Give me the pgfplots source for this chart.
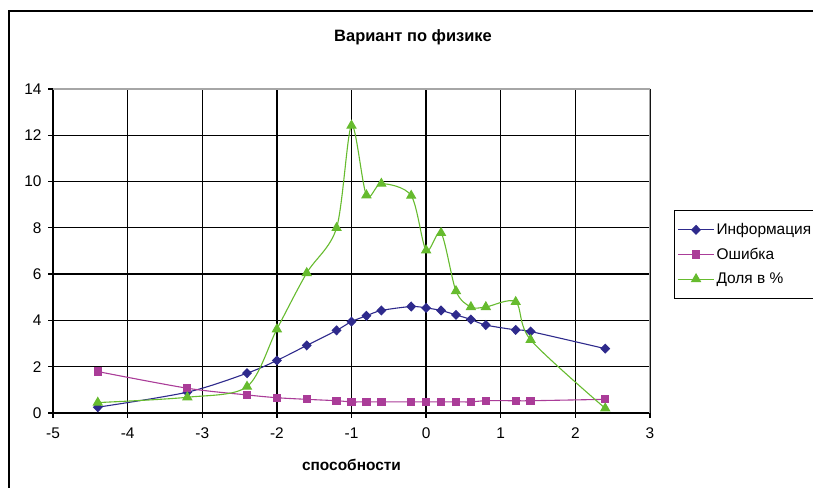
\documentclass[border=0pt]{standalone}
\usepackage{fontspec}
\setmainfont{Liberation Sans}
\usepackage{pgfplots}
\pgfplotsset{compat=1.18}
\definecolor{cInfo}{HTML}{2E2A8C}
\definecolor{cErr}{HTML}{AA3C98}
\definecolor{cDol}{HTML}{66BB2E}
\begin{document}
\begin{tikzpicture}[x=1bp,y=1bp]
\path[use as bounding box] (0,0) rectangle (813,488);
\draw[line width=1.2bp] (9,-2) -- (9,477) -- (815,477);
\node[font=\bfseries\fontsize{16.5}{19}\selectfont] at (413,451) {Вариант по физике};
\begin{axis}[
  at={(53bp,75bp)}, anchor=south west,
  scale only axis, width=597bp, height=324bp,
  xmin=-5, xmax=3, ymin=0, ymax=14,
  xtick={-5,-4,...,3}, ytick={0,2,...,14},
  grid=major, grid style={black, line width=1.3bp},
  axis line style={draw=none},
  tick align=outside, tick pos=left, major tick length=5bp,
  tick style={black, line width=1.3bp},
  ticklabel style={font=\fontsize{15.5}{18}\selectfont},
  xticklabel style={yshift=-6bp},
  yticklabel style={xshift=-3bp},
  /pgf/number format/assume math mode=true,
  xlabel={способности},
  xlabel style={font=\bfseries\fontsize{15.5}{18}\selectfont, at={(axis description cs:0.5,-0.1605)}, anchor=center},
  legend cell align=left,
  legend style={at={(axis description cs:1.0402,0.6265)}, anchor=north west, draw=black, line width=1bp,
    font=\fontsize{15.5}{18}\selectfont, row sep=8bp, inner xsep=3bp, inner ysep=11bp},
  legend image code/.code={\draw[mark repeat=2,mark phase=2] plot coordinates {(0bp,0bp) (18bp,0bp) (36bp,0bp)};},
]
\addplot[cInfo, line width=1.1bp, smooth, tension=0.5, mark=diamond*, mark size=4.3bp, mark options={solid, fill=cInfo, xscale=1.3}] coordinates {
(-4.4,0.25) (-3.2,0.9) (-2.4,1.72) (-2.0,2.27) (-1.6,2.92) (-1.2,3.57) (-1.0,3.95) (-0.8,4.2) (-0.6,4.43) (-0.2,4.6) (0,4.54) (0.2,4.43) (0.4,4.24) (0.6,4.04) (0.8,3.8) (1.2,3.59) (1.4,3.52) (2.4,2.78)};
\addlegendentry{Информация}
\addplot[cErr, line width=1.1bp, smooth, tension=0.5, mark=square*, mark size=3.6bp, mark options={solid, fill=cErr}] coordinates {
(-4.4,1.79) (-3.2,1.07) (-2.4,0.78) (-2.0,0.66) (-1.6,0.59) (-1.2,0.53) (-1.0,0.48) (-0.8,0.48) (-0.6,0.48) (-0.2,0.48) (0,0.48) (0.2,0.48) (0.4,0.48) (0.6,0.48) (0.8,0.53) (1.2,0.53) (1.4,0.53) (2.4,0.59)};
\addlegendentry{Ошибка}
\addplot[cDol, line width=1.1bp, smooth, tension=0.5, mark=triangle*, mark size=5bp, mark options={solid, fill=cDol}] coordinates {
(-4.4,0.45) (-3.2,0.68) (-2.4,1.14) (-2.0,3.62) (-1.6,6.05) (-1.2,8.0) (-1.0,12.42) (-0.8,9.41) (-0.6,9.91) (-0.2,9.39) (0,7.03) (0.2,7.78) (0.4,5.27) (0.6,4.58) (0.8,4.58) (1.2,4.8) (1.4,3.16) (2.4,0.2)};
\addlegendentry{Доля в \%}
\draw[black, line width=1.3bp] (rel axis cs:0,1) -- (rel axis cs:0,0) -- (rel axis cs:1,0);
\draw[gray!70, line width=1.4bp] (rel axis cs:0,1) -- (rel axis cs:1,1) -- (rel axis cs:1,0);
\end{axis}
\end{tikzpicture}
\end{document}
